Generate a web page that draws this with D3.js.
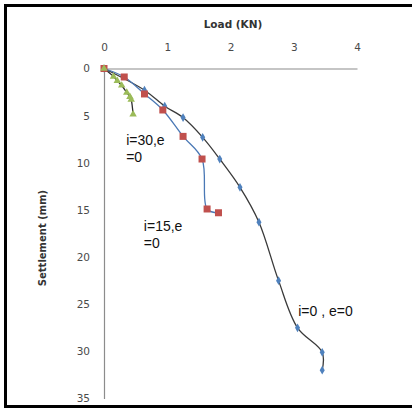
<!DOCTYPE html>
<html><head><meta charset="utf-8">
<script src="https://cdn.jsdelivr.net/npm/d3@7"></script>
<style>body{margin:0;background:#fff}svg{display:block}</style>
</head><body>
<script>
// Data
const xTicks = [0, 1, 2, 3, 4];
const yTicks = [0, 5, 10, 15, 20, 25, 30, 35];
const loadI0 = [0, 0.64, 0.96, 1.25, 1.56, 1.83, 2.15, 2.45, 2.76, 3.06, 3.45, 3.45];
const settI0 = [0, 2.3, 4.0, 5.2, 7.3, 9.6, 12.6, 16.3, 22.5, 27.5, 30.1, 32.0];
const loadI15 = [0, 0.32, 0.64, 0.93, 1.25, 1.55, 1.63, 1.81];
const settI15 = [0, 0.9, 2.7, 4.4, 7.2, 9.6, 14.9, 15.3];
const loadI30 = [0, 0.15, 0.21, 0.28, 0.36, 0.41, 0.43, 0.46];
const settI30 = [0, 0.85, 1.3, 1.8, 2.55, 3.0, 3.3, 4.85];
const labels = [
  {lines: ["i=30,e", "=0"], load: 0.35, sett: 8.1},
  {lines: ["i=15,e", "=0"], load: 0.63, sett: 17.2},
  {lines: ["i=0 , e=0"], load: 3.07, sett: 26.2}
];

const W = 412, H = 408;
const svg = d3.select("body").append("svg").attr("width", W).attr("height", H);

// frame
svg.append("rect").attr("x", 5.5).attr("y", 5.5).attr("width", 420).attr("height", 401)
  .attr("fill", "none").attr("stroke", "#000").attr("stroke-width", 3);

const x = d3.scaleLinear().domain([0, 4]).range([104, 357]);
const y = d3.scaleLinear().domain([0, 35]).range([68.5, 398.5]);

const xAxis = d3.axisTop(x).tickValues(xTicks).tickFormat(d3.format("d")).tickSize(0).tickPadding(18);
const gx = svg.append("g").attr("transform", `translate(0,${y(0)})`).call(xAxis);
gx.select(".domain").attr("stroke", "#8c8c8c").attr("stroke-width", 1.2);
gx.selectAll("text").attr("font-family", "DejaVu Sans").attr("font-size", 10.5).attr("fill", "#4a4a4a");

const yAxis = d3.axisLeft(y).tickValues(yTicks).tickFormat(d3.format("d")).tickSize(0).tickPadding(14);
const gy = svg.append("g").attr("transform", `translate(${x(0)},0)`).call(yAxis);
gy.select(".domain").attr("stroke", "#8c8c8c").attr("stroke-width", 1.2);
gy.selectAll("text").attr("font-family", "DejaVu Sans").attr("font-size", 10.5).attr("fill", "#4a4a4a");

svg.append("text").attr("x", 233).attr("y", 28).attr("text-anchor", "middle")
  .attr("font-family", "DejaVu Sans").attr("font-weight", "bold").attr("font-size", 10.5)
  .attr("fill", "#333").text("Load (KN)");
svg.append("text").attr("transform", "translate(46,238) rotate(-90)").attr("text-anchor", "middle")
  .attr("font-family", "DejaVu Sans").attr("font-weight", "bold").attr("font-size", 10)
  .attr("fill", "#333").text("Settlement (mm)");

const line = d3.line().x(d => x(d[0])).y(d => y(d[1])).curve(d3.curveCatmullRom.alpha(0.5));
const zip = (a, b) => a.map((v, i) => [v, b[i]]);

const s0 = zip(loadI0, settI0), s15 = zip(loadI15, settI15), s30 = zip(loadI30, settI30);

svg.append("path").datum(s0).attr("d", line).attr("fill", "none").attr("stroke", "#3a3a3a").attr("stroke-width", 1.3);
svg.append("path").datum(s15).attr("d", line).attr("fill", "none").attr("stroke", "#4a78b5").attr("stroke-width", 1.3);
svg.append("path").datum(s30).attr("d", line).attr("fill", "none").attr("stroke", "#2b2b2b").attr("stroke-width", 1.3);

svg.append("g").selectAll("path").data(s0).join("path")
  .attr("transform", d => `translate(${x(d[0])},${y(d[1])})`)
  .attr("d", d3.symbol(d3.symbolDiamond, 22)).attr("fill", "#4f81bd");
svg.append("g").selectAll("rect").data(s15).join("rect")
  .attr("x", d => x(d[0]) - 3.5).attr("y", d => y(d[1]) - 3.5).attr("width", 7).attr("height", 7)
  .attr("fill", "#c0504d");
svg.append("g").selectAll("path").data(s30).join("path")
  .attr("transform", d => `translate(${x(d[0])},${y(d[1])})`)
  .attr("d", d3.symbol(d3.symbolTriangle, 24)).attr("fill", "#9bbb59");

labels.forEach(l => {
  const t = svg.append("text").attr("font-family", "Liberation Sans").attr("font-size", 14).attr("fill", "#111");
  l.lines.forEach((s, i) => {
    t.append("tspan").attr("x", x(l.load)).attr("y", y(l.sett) + i * 17).text(s);
  });
});
</script>
</body></html>
